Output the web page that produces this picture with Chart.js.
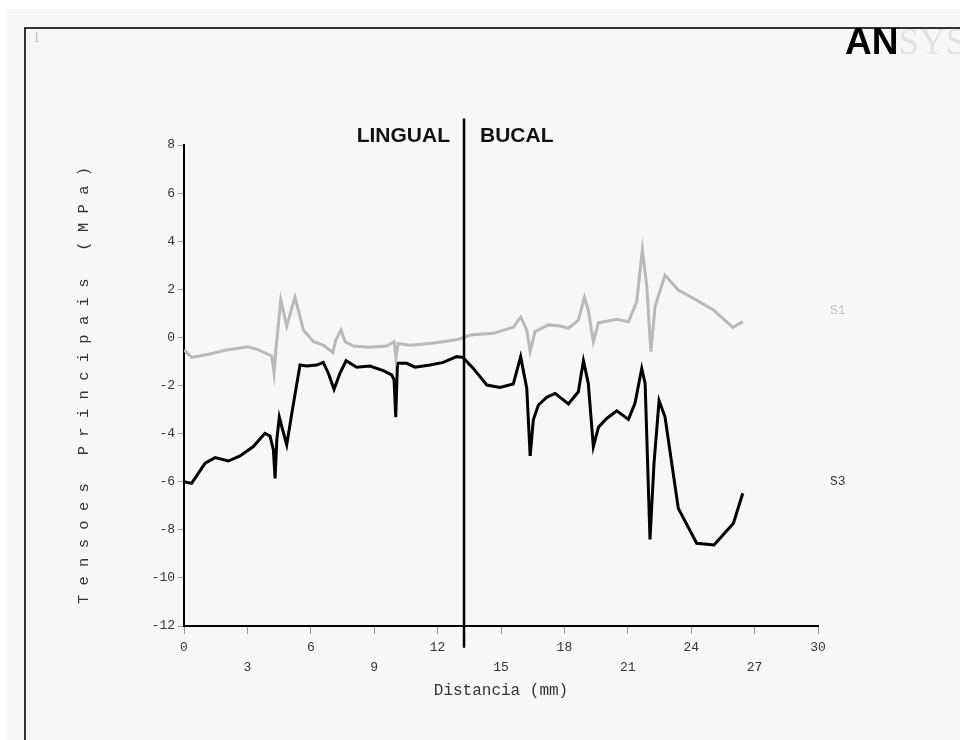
<!DOCTYPE html>
<html>
<head>
<meta charset="utf-8">
<script src="https://cdn.jsdelivr.net/npm/chart.js@4.4.1/dist/chart.umd.min.js"></script>
<style>
  html, body { margin: 0; padding: 0; width: 960px; height: 740px; overflow: hidden; background: #fff; }
  #panel { position: absolute; left: 7px; top: 9px; right: 0; bottom: 0; background: #f7f7f7; }
  #frame { position: absolute; left: 24px; top: 27px; right: -4px; bottom: -4px;
           border-left: 2px solid #333; border-top: 2px solid #333; }
  #wrap { position: absolute; left: 0; top: 0; width: 960px; height: 740px; }
  .lbl { position: absolute; white-space: nowrap; }
  #winNum { left: 33px; top: 31px; font: 14px/14px 'Liberation Serif', serif; color: #bdbdbd; }
  #logo { left: 845px; top: 22px; font: bold 37px/40px 'Liberation Sans', sans-serif; color: #000; }
  #logo span { font-weight: normal; font-family: 'Liberation Serif', serif; color: #e2e2e2; }
  .side { font: bold 21px/21px 'Liberation Sans', sans-serif; color: #111; top: 124px; }
  .serie { font: 13px/13px 'Liberation Mono', monospace; left: 830px; }
</style>
</head>
<body>
<div id="panel"></div>
<div id="frame"></div>
<div id="wrap"><canvas id="c" width="960" height="740"></canvas></div>
<div class="lbl" id="winNum">1</div>
<div class="lbl" id="logo">AN<span>SYS</span></div>
<div class="lbl side" id="lingual">LINGUAL</div>
<div class="lbl side" id="bucal">BUCAL</div>
<div class="lbl serie" id="s1lab" style="top:304px;color:#c4c4c4;">S1</div>
<div class="lbl serie" id="s3lab" style="top:475px;color:#333;">S3</div>
<script>
// Distance along the section (mm) and principal stresses (MPa)
const s1Dist = [0, 0.36, 1.23, 2.02, 3.04, 3.52, 4.15, 4.26, 4.36, 4.58, 4.86, 5.25, 5.65, 6.12, 6.59,
  7.04, 7.18, 7.43, 7.62, 8.01, 8.8, 9.59, 9.94, 10.03, 10.13, 10.7, 11.64, 12.59, 13.1, 13.54,
  14.64, 15.58, 15.93, 16.22, 16.38, 16.61, 17.24, 17.8, 18.19, 18.66, 18.95, 19.13, 19.37, 19.61,
  20.48, 21.03, 21.42, 21.69, 21.9, 22.09, 22.29, 22.76, 23.39, 24.1, 25.05, 25.97, 26.44];
const s1Vals = [-0.52, -0.83, -0.69, -0.52, -0.39, -0.52, -0.77, -1.49, -0.39, 1.56, 0.47, 1.67, 0.31, -0.18, -0.32,
  -0.63, -0.11, 0.31, -0.18, -0.36, -0.41, -0.36, -0.18, -0.87, -0.25, -0.33, -0.25, -0.14, -0.05, 0.1,
  0.17, 0.42, 0.84, 0.31, -0.59, 0.24, 0.52, 0.47, 0.38, 0.72, 1.67, 1.14, -0.18, 0.61,
  0.75, 0.65, 1.48, 3.66, 2.11, -0.59, 1.28, 2.59, 1.97, 1.63, 1.14, 0.42, 0.65];

const s3Dist = [0, 0.36, 1.0, 1.47, 2.1, 2.65, 3.28, 3.83, 4.07, 4.23, 4.31, 4.39, 4.51, 4.67, 4.86,
  5.1, 5.49, 5.81, 6.28, 6.59, 6.83, 7.1, 7.38, 7.67, 8.17, 8.8, 9.43, 9.83, 9.94, 10.02, 10.1,
  10.54, 10.93, 11.64, 12.27, 12.9, 13.2, 13.69, 14.33, 14.95, 15.58, 15.93, 16.22, 16.38, 16.53,
  16.77, 17.16, 17.56, 18.19, 18.66, 18.9, 19.13, 19.37, 19.61, 20.0, 20.48, 21.03, 21.34, 21.66,
  21.82, 22.05, 22.24, 22.48, 22.76, 23.39, 24.26, 25.08, 26.0, 26.44];
const s3Vals = [-6.0, -6.07, -5.23, -5.0, -5.14, -4.93, -4.54, -3.99, -4.1, -4.68, -5.86, -4.27, -3.32, -3.85, -4.47,
  -3.16, -1.15, -1.19, -1.15, -1.04, -1.49, -2.16, -1.49, -0.97, -1.24, -1.19, -1.38, -1.56, -1.77, -3.32, -1.08,
  -1.08, -1.24, -1.15, -1.04, -0.8, -0.83, -1.29, -1.98, -2.08, -1.94, -0.8, -2.12, -4.93, -3.43,
  -2.81, -2.49, -2.33, -2.77, -2.26, -0.97, -1.91, -4.54, -3.74, -3.37, -3.05, -3.41, -2.74, -1.29,
  -1.91, -8.4, -5.24, -2.63, -3.3, -7.11, -8.56, -8.63, -7.73, -6.48];

// Axis ranges and the lingual / buccal boundary
const xTicks = { min: 0, max: 30, step: 3 };
const yTicks = { min: -12, max: 8, step: 2 };
const dividerAt = 13.25;
const dividerSpan = [9.1, -12.9];

const toPoints = (xs, ys) => xs.map((d, i) => ({ x: d, y: ys[i] }));

const dividerPlugin = {
  id: 'divider',
  afterDatasetsDraw(chart) {
    const { ctx, scales } = chart;
    const px = scales.x.getPixelForValue(dividerAt);
    ctx.save();
    ctx.strokeStyle = '#000';
    ctx.lineWidth = 2.5;
    ctx.beginPath();
    ctx.moveTo(px, scales.y.getPixelForValue(dividerSpan[0]));
    ctx.lineTo(px, scales.y.getPixelForValue(dividerSpan[1]));
    ctx.stroke();
    ctx.restore();
  }
};

const monoFont = "'Liberation Mono', monospace";

const chart = new Chart(document.getElementById('c'), {
  type: 'line',
  data: {
    datasets: [
      { label: 'S1', data: toPoints(s1Dist, s1Vals), borderColor: '#b9b9b9', borderWidth: 3,
        pointRadius: 0, tension: 0, fill: false },
      { label: 'S3', data: toPoints(s3Dist, s3Vals), borderColor: '#000', borderWidth: 3,
        pointRadius: 0, tension: 0, fill: false }
    ]
  },
  options: {
    responsive: false,
    animation: false,
    devicePixelRatio: 1,
    layout: { padding: { left: 70, top: 145, right: 142, bottom: 34 } },
    plugins: { legend: { display: false }, tooltip: { enabled: false } },
    scales: {
      x: {
        type: 'linear',
        min: xTicks.min, max: xTicks.max,
        afterFit(s) { s.height = 80; },
        ticks: {
          stepSize: xTicks.step, autoSkip: false, maxRotation: 0, padding: 4, color: '#333',
          font: { family: monoFont, size: 13, lineHeight: 1.54 },
          callback(v, i) { return i % 2 === 0 ? String(v) : ['', String(v)]; }
        },
        grid: { drawOnChartArea: false, drawTicks: true, tickLength: 8, color: '#999' },
        border: { color: '#000', width: 2 },
        title: { display: true, text: 'Distancia (mm)', color: '#333',
                 font: { family: monoFont, size: 16 }, padding: { top: 0, bottom: 6 } }
      },
      y: {
        min: yTicks.min, max: yTicks.max,
        afterFit(s) { s.width = 114; },
        ticks: { stepSize: yTicks.step, padding: 3, color: '#333',
                 font: { family: monoFont, size: 13 } },
        grid: { drawOnChartArea: false, drawTicks: true, tickLength: 6, color: '#999' },
        border: { color: '#000', width: 2 },
        title: { display: true, text: 'Tensoes Principais (MPa)'.split('').join(' '), color: '#333',
                 font: { family: monoFont, size: 15.5 }, padding: { top: 5 } }
      }
    }
  },
  plugins: [dividerPlugin]
});

// Place the side labels on either side of the boundary line
const divPx = chart.scales.x.getPixelForValue(dividerAt);
document.getElementById('lingual').style.right = (960 - divPx + 14) + 'px';
document.getElementById('bucal').style.left = (divPx + 16) + 'px';
</script>
</body>
</html>
